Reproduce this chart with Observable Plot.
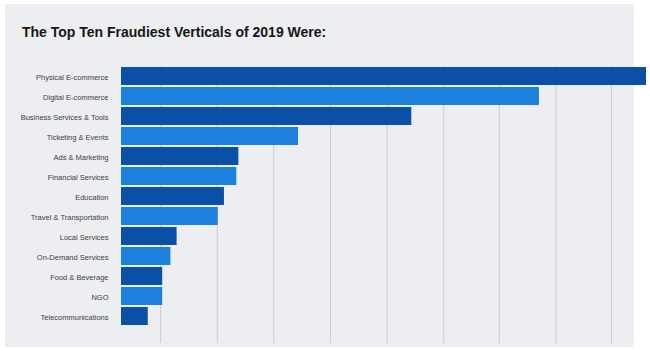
<!DOCTYPE html>
<html>
<head>
<meta charset="utf-8">
<script src="https://cdn.jsdelivr.net/npm/d3@7"></script>
<script src="https://cdn.jsdelivr.net/npm/@observablehq/plot@0.6"></script>
<style>
  html, body { margin: 0; padding: 0; background: #ffffff; }
  #wrap { position: relative; width: 650px; height: 351px; overflow: hidden; font-family: "Liberation Sans", Arial, sans-serif; }
  #panel { position: absolute; left: 5px; top: 4px; width: 629px; height: 343px; background: #eceef1; }
  #title { position: absolute; left: 22px; top: 25px; font-size: 14px; line-height: 14px; font-weight: bold; color: #161616; white-space: nowrap; }
  #chart { position: absolute; left: 0; top: 0; }
</style>
</head>
<body>
<div id="wrap">
  <div id="panel"></div>
  <div id="title">The Top Ten Fraudiest Verticals of 2019 Were:</div>
  <div id="chart"></div>
</div>
<script>
const categories = [
  "Physical E-commerce",
  "Digital E-commerce",
  "Business Services & Tools",
  "Ticketing & Events",
  "Ads & Marketing",
  "Financial Services",
  "Education",
  "Travel & Transportation",
  "Local Services",
  "On-Demand Services",
  "Food & Beverage",
  "NGO",
  "Telecommunications"
];
// estimated share of fraud (%)
const shares = [25.5, 20.3, 14.1, 8.6, 5.7, 5.6, 5.0, 4.7, 2.7, 2.4, 2.0, 2.0, 1.3];
const gridTicks = [1.9, 4.65, 7.4, 10.15, 12.9, 15.65, 18.35, 21.1, 23.8];
const darkBlue = "#0a50a6";
const lightBlue = "#1d80dc";

const data = categories.map((c, i) => ({category: c, share: shares[i], shade: i % 2 === 0 ? darkBlue : lightBlue}));

const chart = Plot.plot({
  width: 650,
  height: 351,
  marginTop: 66,
  marginBottom: 25,
  marginLeft: 121,
  marginRight: 4,
  style: {background: "transparent", fontFamily: "'Liberation Sans', Arial, sans-serif", fontSize: "7.5px", color: "#404040"},
  x: {domain: [0, 25.5], axis: null},
  y: {domain: categories, paddingInner: 0.08, paddingOuter: 0.04, label: null},
  marks: [
    Plot.ruleX(gridTicks, {stroke: "#c9ccd1", strokeWidth: 1, insetBottom: -17}),
    Plot.barX(data, {x: "share", y: "category", fill: d => d.shade}),
    Plot.axisY({tickSize: 0, tickPadding: 13, label: null, fill: "#404040", dy: 1})
  ]
});
document.getElementById("chart").appendChild(chart);
</script>
</body>
</html>
